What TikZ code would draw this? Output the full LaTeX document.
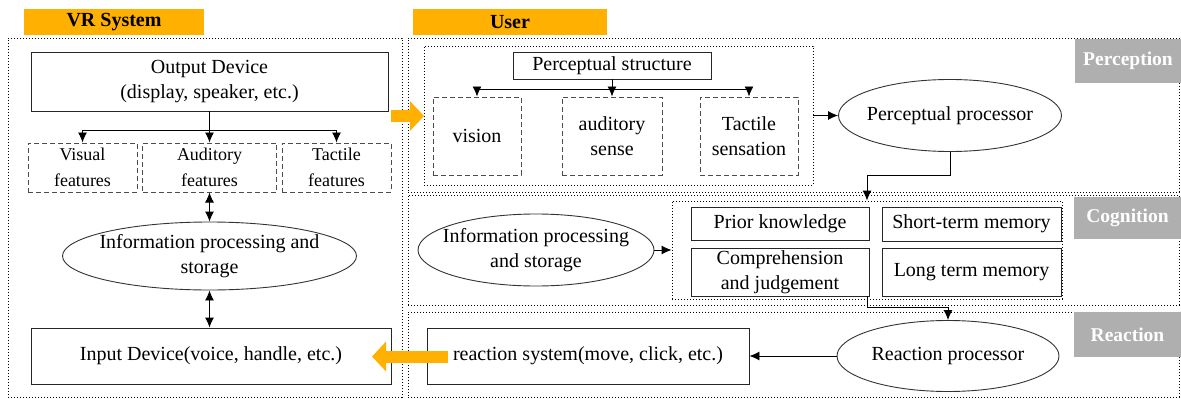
\documentclass[tikz,border=0pt]{standalone}
\usepackage{fontspec}
\setmainfont{Liberation Serif}
\usetikzlibrary{arrows.meta,shapes.geometric,calc}
\definecolor{vorange}{HTML}{FFB000}
\definecolor{vgray}{HTML}{AFAFAF}
\begin{document}
\begin{tikzpicture}[x=1pt,y=-1pt,
 txt/.style={font=\fontsize{20}{25}\selectfont, align=center},
 sbox/.style={draw=black!85, line width=0.9pt, rectangle, inner sep=0pt, txt},
 dbox/.style={draw=black!70, line width=1pt, dash pattern=on 5pt off 3pt, inner sep=0pt, txt},
 ftxt/.style={font=\fontsize{18}{26}\selectfont, align=center},
 region/.style={draw, line width=0.9pt, dash pattern=on 1.3pt off 1.7pt, inner sep=0pt},
 ell/.style={draw=black!80, line width=0.9pt, ellipse, inner sep=0pt},
 lbl/.style={txt},
 arr/.style={line width=0.9pt, -{Latex[length=10pt,width=9pt]}},
 darr/.style={line width=0.9pt, {Latex[length=10pt,width=9pt]}-{Latex[length=10pt,width=9pt]}},
 plain/.style={line width=0.9pt},
 head/.style={fill=vorange, inner sep=0pt, font=\fontsize{20}{24}\selectfont\bfseries},
 glab/.style={fill=vgray, text=white, inner sep=0pt, font=\fontsize{19.5}{24}\selectfont\bfseries},
 oarr/.style={vorange, line width=12pt, -{Triangle[length=14pt,width=29pt]}}
]
\useasboundingbox (0,0) rectangle (1181,399);

% headers
\node[head, minimum width=180pt, minimum height=26pt] (hvr) at (114,22) {VR System};
\node[head, minimum width=194pt, minimum height=26pt] (husr) at (510,22) {User};

% regions
\node[region, minimum width=394pt, minimum height=359pt] (rvr) at (205,217.5) {};
\node[region, minimum width=771pt, minimum height=154pt] (rper) at (793.5,115) {};
\node[region, minimum width=389pt, minimum height=139pt] (pin) at (618.5,115.5) {};
\node[region, minimum width=771pt, minimum height=110pt] (rcog) at (793.5,250) {};
\node[region, minimum width=390pt, minimum height=98pt] (cin) at (867,250) {};
\node[region, minimum width=771pt, minimum height=85pt] (rrea) at (793.5,354.5) {};

% gray labels
\node[glab, minimum width=106pt, minimum height=44pt] (gper) at (1128,61) {Perception};
\node[glab, minimum width=107pt, minimum height=42pt] (gcog) at (1127.5,218) {Cognition};
\node[glab, minimum width=107pt, minimum height=45pt] (grea) at (1127.5,334.5) {Reaction};

% VR system
\node[sbox, minimum width=357pt, minimum height=59pt] (odev) at (209.5,81.5) {Output Device\\(display, speaker, etc.)};
\node[dbox, ftxt, minimum width=109pt, minimum height=49pt] (vis) at (82.5,167.5) {Visual\\features};
\node[dbox, ftxt, minimum width=134pt, minimum height=49pt] (aud) at (209.5,167.5) {Auditory\\features};
\node[dbox, ftxt, minimum width=109pt, minimum height=49pt] (tac) at (336.5,167.5) {Tactile\\features};
\node[ell, minimum width=294pt, minimum height=68pt, label={[lbl]center:{Information processing and\\storage}}] (ip) at (209.5,256) {};
\node[sbox, minimum width=360pt, minimum height=56pt] (indev) at (211,356) {Input Device(voice, handle, etc.)};

\coordinate (j1) at (209.5,130);
\draw[plain] (odev.south) -- (j1);
\draw[arr] (j1) -| (vis.north);
\draw[arr] (j1) -- (aud.north);
\draw[arr] (j1) -| (tac.north);
\draw[darr] (aud.south) -- (ip.north);
\draw[darr] (ip.south) -- (ip.south |- indev.north);

% Perception
\node[sbox, minimum width=198pt, minimum height=27pt] (ps) at (612,65.5) {Perceptual structure};
\node[dbox, minimum width=88pt, minimum height=78pt] (vsn) at (477,136) {vision};
\node[dbox, minimum width=100pt, minimum height=78pt] (asn) at (612,136) {auditory\\sense};
\node[dbox, minimum width=98pt, minimum height=78pt] (tsn) at (749,136) {Tactile\\sensation};
\node[ell, minimum width=223pt, minimum height=72pt, label={[lbl]center:{Perceptual processor}}] (pp) at (950,115.5) {};

\coordinate (j2) at (612,89);
\draw[plain] (ps.south) -- (j2);
\draw[arr] (j2) -| (vsn.north);
\draw[arr] (j2) -- (asn.north);
\draw[arr] (j2) -| (tsn.north);
\draw[arr] (pin.east) -- (pin.east -| pp.west);

% Cognition
\node[ell, minimum width=236pt, minimum height=72pt, label={[lbl]center:{Information processing\\and storage}}] (ce) at (536,250) {};
\node[sbox, minimum width=178pt, minimum height=33pt] (pk) at (780,223.5) {Prior knowledge};
\node[sbox, minimum width=178pt, minimum height=48pt] (comp) at (780,272) {Comprehension\\and judgement};
\node[sbox, minimum width=179pt, minimum height=34pt] (stm) at (971.5,224) {Short-term memory};
\node[sbox, minimum width=179pt, minimum height=48pt] (ltm) at (971.5,272) {Long term memory};

\coordinate (b1) at (867,175);
\draw[arr] (pp.south) |- (b1) -- (b1 |- cin.north);
\draw[arr] (ce.east) -- (ce.east -| cin.west);

% Reaction
\node[ell, minimum width=222pt, minimum height=71pt, label={[lbl]center:{Reaction processor}}] (rp) at (948,356) {};
\node[sbox, minimum width=322pt, minimum height=56pt] (rs) at (588,356) {reaction system(move, click, etc.)};

\coordinate (b2) at (867,307);
\draw[arr] (b2 |- comp.south) -- (b2) -| (rp.north);
\draw[arr] (rp.west) -- (rp.west -| rs.east);

% orange transfer arrows
\coordinate (o1s) at (391,116);
\coordinate (o1e) at (424,116);
\draw[oarr] (o1s) -- (o1e);
\coordinate (o2s) at (448,356.5);
\coordinate (o2e) at (372,356.5);
\draw[oarr] (o2s) -- (o2e);
\end{tikzpicture}
\end{document}
